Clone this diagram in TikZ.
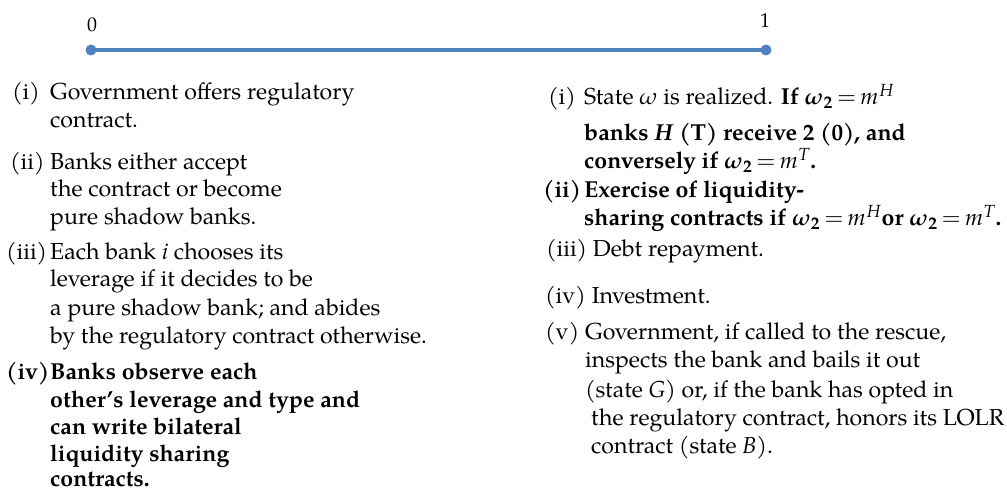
\documentclass[tikz,border=0pt]{standalone}
\usepackage{amsmath}
\usepackage{mathpazo}
\usepackage{fontspec}
\setmainfont{TeX Gyre Pagella}
\definecolor{tlblue}{RGB}{79,129,189}
\newcommand{\bw}{\boldsymbol{\omega}_{\mathbf{2}}\mskip3mu\mathbf{=}\mskip3mu}
\begin{document}
\begin{tikzpicture}[x=1bp,y=-1bp,
  txt/.style={anchor=base west, inner sep=0pt, font=\fontsize{23.2}{28}\selectfont},
  btxt/.style={txt, font=\fontsize{23.2}{28}\selectfont\bfseries},
  numlab/.style={anchor=base, inner sep=0pt, font=\fontsize{20}{24}\selectfont},
  tdot/.style={circle, fill=tlblue, inner sep=0pt, minimum size=11bp}]
\useasboundingbox (0,0) rectangle (1007,491);
% timeline
\node[tdot] (t0) at (91,50) {};
\node[tdot] (t1) at (766,50) {};
\draw[tlblue, line width=3.5bp] (t0.center) -- (t1.center);
\node[numlab] (l0) at (92,32) {0};
\node[numlab] (l1) at (765,28) {1};
% left column
\node[txt] (a1) at (12,100) {(i)};
\node[txt] (a1a) at (50,100) {Government offers regulatory};
\node[txt] (a1b) at (50,128) {contract.};
\node[txt] (a2) at (10,170) {(ii)};
\node[txt] (a2a) at (50,170) {Banks either accept};
\node[txt] (a2b) at (50,197) {the contract or become};
\node[txt] (a2c) at (50,225) {pure shadow banks.};
\node[txt] (a3) at (6,260) {(iii)};
\node[txt] (a3a) at (50,260) {Each bank \textit{i} chooses its};
\node[txt] (a3b) at (50,287) {leverage if it decides to be};
\node[txt] (a3c) at (50,316) {a pure shadow bank; and abides};
\node[txt] (a3d) at (50,344) {by the regulatory contract otherwise.};
\node[btxt] (a4) at (6,380) {(iv)};
\node[btxt] (a4a) at (50,380) {Banks observe each};
\node[btxt] (a4b) at (50,407) {other’s leverage and type and};
\node[btxt] (a4c) at (50,434) {can write bilateral};
\node[btxt] (a4d) at (50,461) {liquidity sharing};
\node[btxt] (a4e) at (50,486) {contracts.};
% right column
\node[txt] (b1) at (548,105) {(i)};
\node[txt] (b1a) at (584,105) {State $\omega$ is realized. \textbf{If $\bw m^{H}$}};
\node[btxt] (b1b) at (584,141) {banks \textit{H} (T) receive 2 (0), and};
\node[btxt] (b1c) at (584,169) {conversely if $\bw m^{T}$.};
\node[btxt] (b2) at (543,198) {(ii)};
\node[btxt] (b2a) at (584,198) {Exercise of liquidity-};
\node[btxt] (b2b) at (584,226) {sharing contracts if $\bw m^{H}$or $\bw m^{T}$.};
\node[txt] (b3) at (546,257) {(iii) Debt repayment.};
\node[txt] (b4) at (545,304) {(iv) Investment.};
\node[txt] (b5) at (545,340) {(v) Government, if called to the rescue,};
\node[txt] (b5a) at (585,368) {inspects the bank and bails it out};
\node[txt] (b5b) at (585,397) {(state \textit{G}) or, if the bank has opted in};
\node[txt] (b5c) at (591,425) {the regulatory contract, honors its LOLR};
\node[txt] (b5d) at (591,453) {contract (state \textit{B}).};
\end{tikzpicture}
\end{document}
